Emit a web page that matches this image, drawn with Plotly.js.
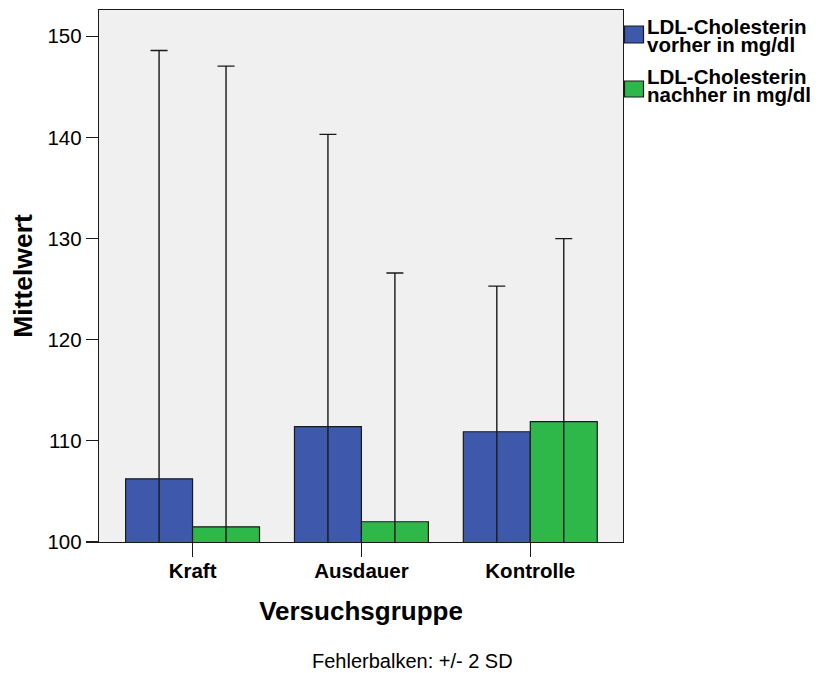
<!DOCTYPE html>
<html>
<head>
<meta charset="utf-8">
<script src="https://cdn.plot.ly/plotly-3.0.1.min.js"></script>
<style>html,body{margin:0;padding:0;background:#fff;}#chart{width:824px;height:673px;}</style>
</head>
<body>
<div id="chart"></div>
<script>
const categories = ["Kraft", "Ausdauer", "Kontrolle"];
const seriesNames = ["LDL-Cholesterin<br>vorher in mg/dl", "LDL-Cholesterin<br>nachher in mg/dl"];
const vorher = [106.25, 111.4, 110.9];
const nachher = [101.5, 102.0, 111.9];
const vorherErr = [42.35, 28.9, 14.4];   // 2 SD
const nachherErr = [45.55, 24.6, 18.1];  // 2 SD
const yTicks = [100, 110, 120, 130, 140, 150];

const COLORS = ["#3e58ac", "#2fb84a"];
const FONT = "Arial, 'Liberation Sans', sans-serif";

// plot area in pixels (for the hand-placed legend and footnote)
const PL = 99, PR = 623, PT = 10, PB = 542;
const px2x = p => (p - PL) / (PR - PL);
const py2y = p => (PB - p) / (PB - PT);

function barTrace(name, y, err, color) {
  return {
    type: "bar", name: name, x: categories, y: y,
    marker: {color: color, line: {color: "#1a1a1a", width: 1.2}},
    error_y: {type: "data", array: err, visible: true, color: "#1a1a1a", thickness: 1.4, width: 8.5},
    hoverinfo: "skip", showlegend: false
  };
}

const data = [
  barTrace(seriesNames[0], vorher, vorherErr, COLORS[0]),
  barTrace(seriesNames[1], nachher, nachherErr, COLORS[1])
];

// legend drawn by hand (tight SPSS-style line spacing)
const legendLineCenters = [[26, 44], [76, 94]];
const legendBoxes = [[26, 43], [81, 97]];
const annotations = [];
const shapes = [];
seriesNames.forEach((nm, i) => {
  nm.split("<br>").forEach((line, j) => {
    annotations.push({
      text: line, xref: "paper", yref: "paper",
      x: px2x(647), y: py2y(legendLineCenters[i][j]),
      xanchor: "left", yanchor: "middle", showarrow: false,
      borderpad: 0, borderwidth: 0,
      font: {family: FONT, size: 20.5, weight: "bold", color: "#000"}
    });
  });
  shapes.push({
    type: "rect", xref: "paper", yref: "paper",
    x0: px2x(624.5), x1: px2x(643.5),
    y0: py2y(legendBoxes[i][1]), y1: py2y(legendBoxes[i][0]),
    fillcolor: COLORS[i], line: {color: "#1a1a1a", width: 1.2}
  });
});
annotations.push({
  text: "Fehlerbalken: +/- 2 SD",
  xref: "paper", yref: "paper",
  x: px2x(412), y: py2y(661),
  xanchor: "center", yanchor: "middle",
  showarrow: false,
  font: {family: FONT, size: 20, color: "#000"}
});

const layout = {
  width: 824, height: 673,
  margin: {l: PL, r: 824 - PR, t: PT, b: 673 - PB, pad: 0},
  paper_bgcolor: "#ffffff",
  plot_bgcolor: "#f0f0f0",
  barmode: "group",
  bargap: 0.207,
  bargroupgap: 0,
  font: {family: FONT, color: "#000"},
  showlegend: false,
  xaxis: {
    type: "category",
    range: [-0.554, 2.549],
    showline: true, linecolor: "#1a1a1a", linewidth: 1.3, mirror: true,
    ticks: "outside", ticklen: 14, tickcolor: "#1a1a1a", tickwidth: 1.2,
    ticklabelstandoff: -4,
    tickfont: {family: FONT, size: 20.5, weight: "bold", color: "#000"},
    showgrid: false, zeroline: false,
    title: {text: "Versuchsgruppe", font: {family: FONT, size: 26, weight: "bold", color: "#000"}, standoff: 21}
  },
  yaxis: {
    range: [100, 152.6],
    tickvals: yTicks,
    showline: true, linecolor: "#1a1a1a", linewidth: 1.3, mirror: true,
    ticks: "outside", ticklen: 12, tickcolor: "#1a1a1a", tickwidth: 1.2,
    tickfont: {family: FONT, size: 20.5, color: "#000"},
    showgrid: false, zeroline: false,
    title: {text: "Mittelwert", font: {family: FONT, size: 26.5, weight: "bold", color: "#000"}, standoff: 7}
  },
  shapes: shapes,
  annotations: annotations
};

Plotly.newPlot("chart", data, layout, {displayModeBar: false, staticPlot: true});
</script>
</body>
</html>
